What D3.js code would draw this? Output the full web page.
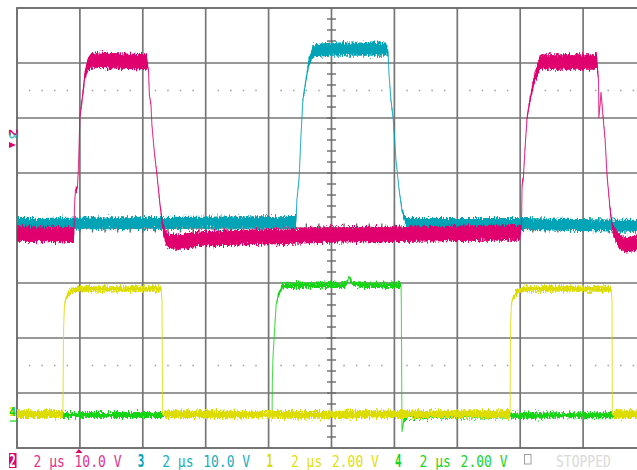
<!DOCTYPE html>
<html><head><meta charset="utf-8">
<script src="https://cdn.jsdelivr.net/npm/d3@7"></script>
<style>html,body{margin:0;padding:0;background:#fff;overflow:hidden}</style>
</head><body><svg id="c" width="637" height="470"></svg>
<script>
// ---------- data ----------
const timeRangeUs = [0, 20];            // 10 divisions x 2 µs
const channelIds = ['1', '2', '3', '4'];
const voltsPerDiv = [2, 10, 10, 2];
const groundDiv = [-3.364, 1.509, 1.509, -3.364]; // ground level in divisions from screen centre
// traces: [time µs, volts, noise half-amplitude volts]
const ch2Trace = [[0,-16.18,1.4],[1.81,-16.36,1.4],[1.83,-10.91,0.2],[1.86,-8.18,0.4],[1.92,-7.82,0.4],[1.95,-4.55,0.2],[1.97,-0.91,0.2],[2.00,5.09,0.3],[2.07,8.18,0.7],[2.16,12.73,0.9],[2.26,14.73,1.2],[2.38,15.45,1.4],[3.28,15.27,1.4],[4.13,15.09,1.4],[4.18,13.64,0.4],[4.21,9.09,0.3],[4.26,7.27,0.3],[4.29,3.64,0.2],[4.36,-0.91,0.2],[4.45,-5.45,0.3],[4.55,-10.91,0.5],[4.64,-15.09,0.9],[4.74,-16.91,1.3],[4.86,-17.64,1.4],[5.18,-17.64,1.4],[5.82,-17.09,1.4],[7.73,-16.73,1.4],[9.95,-16.36,1.4],[12.81,-16.18,1.4],[14.72,-16.0,1.4],[15.99,-16.0,1.4],[16.04,-15.09,0.3],[16.06,-7.27,0.3],[16.10,-6.0,0.4],[16.15,-0.91,0.3],[16.22,5.09,0.4],[16.31,8.18,0.7],[16.44,11.82,1.0],[16.63,15.09,1.4],[17.58,15.09,1.4],[18.44,15.09,1.4],[18.49,11.82,0.3],[18.50,4.91,0.2],[18.54,7.27,0.2],[18.57,9.64,0.2],[18.63,5.45,0.2],[18.70,0.91,0.3],[18.76,-5.45,0.3],[18.86,-11.82,0.5],[18.95,-15.45,0.9],[19.11,-17.27,1.3],[19.33,-18.18,1.4],[19.71,-17.82,1.4],[20,-17.64,1.4]];
const ch3Trace = [[0,-14.36,1.1],[4.23,-14.18,1.1],[8.87,-14.0,1.1],[8.90,-10.0,0.2],[8.97,-6.0,0.3],[9.03,1.82,0.3],[9.09,8.18,0.4],[9.19,11.82,0.6],[9.28,15.09,0.9],[9.41,17.09,1.2],[9.95,17.45,1.2],[11.73,17.45,1.2],[11.80,16.91,0.6],[11.83,12.73,0.2],[11.89,8.18,0.3],[11.96,4.91,0.3],[12.05,-2.73,0.2],[12.15,-8.18,0.2],[12.24,-11.82,0.4],[12.34,-13.64,0.8],[12.50,-14.36,1.1],[15.99,-14.36,1.1],[19.81,-14.73,1.1],[20,-14.73,1.1]];
const ch1Trace = [[0,-0.04,0.14],[1.46,-0.04,0.14],[1.48,3.05,0.02],[1.51,3.93,0.04],[1.56,4.18,0.07],[1.65,4.36,0.1],[1.78,4.47,0.1],[2.0,4.51,0.1],[4.58,4.51,0.1],[4.61,4.11,0.02],[4.63,-0.04,0.02],[4.70,-0.04,0.14],[9.0,-0.07,0.14],[12.18,-0.04,0.14],[15.68,-0.04,0.14],[15.69,3.05,0.02],[15.72,3.93,0.04],[15.77,4.18,0.07],[15.87,4.36,0.1],[15.99,4.47,0.1],[16.22,4.51,0.1],[18.89,4.51,0.1],[18.92,4.11,0.02],[18.93,-0.04,0.02],[19.0,-0.04,0.14],[20,-0.04,0.14]];
const ch4Trace = [[0,-0.07,0.11],[8.11,-0.07,0.11],[8.12,1.2,0.02],[8.14,2.04,0.02],[8.19,3.02,0.03],[8.24,3.93,0.05],[8.30,4.25,0.07],[8.43,4.62,0.1],[8.68,4.65,0.1],[10.43,4.65,0.1],[10.52,4.84,0.05],[10.56,4.95,0.05],[10.65,4.73,0.07],[10.91,4.65,0.1],[12.21,4.65,0.1],[12.22,4.11,0.02],[12.24,-0.69,0.02],[12.30,-0.25,0.07],[12.43,-0.11,0.11],[20,-0.07,0.11]];
const triggerTimeUs = 1.97;
const statusChannels = ['2', '3', '1', '4'];
const statusTimebase = ['2 µs', '2 µs', '2 µs', '2 µs'];
const statusScale = ['10.0 V', '10.0 V', '2.00 V', '2.00 V'];
const acquisitionState = 'STOPPED';

// ---------- drawing ----------
const colors = {'1': '#dcdc00', '2': '#e0006e', '3': '#00a4b6', '4': '#14d414'};
const textColors = {'1': '#e0e010', '2': '#e2338f', '3': '#1aaebf', '4': '#22d422'};
const L = 17, R = 646, T = 8, B = 448;
const svg = d3.select('#c');
const X = d3.scaleLinear().domain(timeRangeUs).range([L, R]);
function yFor(id) {
  const i = channelIds.indexOf(id), v = voltsPerDiv[i], g = groundDiv[i];
  return d3.scaleLinear().domain([(-4 - g) * v, (4 - g) * v]).range([B, T]);
}
const Ydiv = d3.scaleLinear().domain([-4, 4]).range([B, T]);
const Xdiv = d3.scaleLinear().domain([0, 10]).range([L, R]);

const defs = svg.append('defs');
const f = defs.append('filter').attr('id', 'jit').attr('x', '-1%').attr('y', '-30%').attr('width', '102%').attr('height', '160%');
f.append('feTurbulence').attr('type', 'fractalNoise').attr('baseFrequency', '0.85 0.25').attr('numOctaves', 2).attr('seed', 4).attr('result', 't');
f.append('feColorMatrix').attr('in', 't').attr('type', 'matrix')
  .attr('values', '0 0 0 0 0.5  0 1 0 0 0  0 0 0 0 0  0 0 0 0 1').attr('result', 'm');
f.append('feDisplacementMap').attr('in', 'SourceGraphic').attr('in2', 'm').attr('scale', 9)
  .attr('xChannelSelector', 'R').attr('yChannelSelector', 'G');

// grid
const grid = svg.append('g');
d3.range(1, 10).forEach(k => grid.append('line').attr('x1', Xdiv(k)).attr('x2', Xdiv(k)).attr('y1', T).attr('y2', B)
  .attr('stroke', '#767676').attr('stroke-width', 1.7));
d3.range(-3, 4).forEach(k => grid.append('line').attr('x1', L).attr('x2', R).attr('y1', Ydiv(k)).attr('y2', Ydiv(k))
  .attr('stroke', '#767676').attr('stroke-width', 1.7));
grid.append('rect').attr('x', L).attr('y', T).attr('width', R - L).attr('height', B - T)
  .attr('fill', 'none').attr('stroke', '#666').attr('stroke-width', 1.8);
// centre ticks
d3.range(1, 40).forEach(k => grid.append('line').attr('x1', Xdiv(5) - 4.5).attr('x2', Xdiv(5) + 4.5)
  .attr('y1', Ydiv(-4 + k / 5)).attr('y2', Ydiv(-4 + k / 5)).attr('stroke', '#6a6a6a').attr('stroke-width', 1.4));
d3.range(1, 50).forEach(k => grid.append('line').attr('y1', Ydiv(0) - 4.5).attr('y2', Ydiv(0) + 4.5)
  .attr('x1', Xdiv(k / 5)).attr('x2', Xdiv(k / 5)).attr('stroke', '#6a6a6a').attr('stroke-width', 1.4));
// dotted reference lines
[2.5, -2.5].forEach(d => d3.range(1, 50).forEach(k => {
  if (k % 5 === 0) return;
  grid.append('rect').attr('x', Xdiv(k / 5) - 0.8).attr('y', Ydiv(d) - 0.8).attr('width', 1.6).attr('height', 1.6).attr('fill', '#a8a8a8');
}));

// traces
function drawTrace(id, data) {
  const y = yFor(id);
  const g = svg.append('g');
  g.append('path').datum(data).attr('filter', 'url(#jit)')
    .attr('d', d3.area().x(d => X(d[0])).y0(d => y(d[1] - d[2])).y1(d => y(d[1] + d[2])))
    .attr('fill', colors[id]);
  g.append('path').datum(data)
    .attr('d', d3.line().x(d => X(d[0])).y(d => y(d[1])))
    .attr('fill', 'none').attr('stroke', colors[id]).attr('stroke-width', 1.1).attr('stroke-opacity', 0.75);
}
drawTrace('3', ch3Trace);
drawTrace('2', ch2Trace);
drawTrace('4', ch4Trace);
drawTrace('1', ch1Trace);

// ground markers
const y23 = yFor('2')(0), y14 = yFor('1')(0);
svg.append('path').attr('d', `M9,${y23 - 3} L16,${y23} L9,${y23 + 3} Z`).attr('fill', colors['2']);
svg.append('text').attr('transform', `translate(9,${y23 - 16}) rotate(90)`).attr('font-family', 'DejaVu Sans Mono')
  .attr('font-weight', 'bold').attr('font-size', 12).attr('fill', colors['2']).text('2');
svg.append('text').attr('transform', `translate(9,${y23 - 13}) rotate(90)`).attr('font-family', 'DejaVu Sans Mono')
  .attr('font-weight', 'bold').attr('font-size', 12).attr('fill', colors['3']).attr('fill-opacity', 0.7).text('3');
svg.append('text').attr('x', 9).attr('y', y14 + 3).attr('font-family', 'DejaVu Sans Mono').attr('font-weight', 'bold')
  .attr('font-size', 12).attr('fill', colors['1']).text('1');
svg.append('text').attr('x', 9).attr('y', y14 + 3).attr('font-family', 'DejaVu Sans Mono').attr('font-weight', 'bold')
  .attr('font-size', 12).attr('fill', colors['4']).text('4');
svg.append('line').attr('x1', 10).attr('x2', 17).attr('y1', y14 + 8).attr('y2', y14 + 8).attr('stroke', colors['4']).attr('stroke-width', 1.2);

// trigger position marker
const tx = X(triggerTimeUs);
svg.append('path').attr('d', `M${tx},${B + 1} L${tx + 3.5},${B + 5} L${tx - 3.5},${B + 5} Z`).attr('fill', colors['2']);

// status bar
const sb = svg.append('g').attr('font-family', 'DejaVu Sans Mono');
statusChannels.forEach((id, i) => {
  const gx = 9 + i * 128.7;
  const g = sb.append('g');
  if (i === 0) {
    g.append('rect').attr('x', gx).attr('y', 453).attr('width', 7.5).attr('height', 15).attr('fill', colors[id]);
  }
  g.append('text').attr('transform', `translate(${gx + (i === 0 ? 0.3 : 0)},467) scale(0.9,1.4)`)
    .attr('font-size', 12).attr('font-weight', 'bold').attr('fill', i === 0 ? '#fff' : colors[id]).text(id);
  g.append('text').attr('transform', `translate(${gx + 24.5},466.5) scale(1,1.22)`).attr('font-size', 13)
    .attr('fill', textColors[id]).text(statusTimebase[i]);
  g.append('text').attr('transform', `translate(${gx + 65.5},466.5) scale(1,1.22)`).attr('font-size', 13)
    .attr('fill', textColors[id]).text(statusScale[i]);
});
sb.append('rect').attr('x', 524.5).attr('y', 454.5).attr('width', 6.5).attr('height', 9.5).attr('fill', 'none').attr('stroke', '#a0a0a0').attr('stroke-width', 1);
sb.append('text').attr('transform', 'translate(556,466.5) scale(1,1.22)').attr('font-size', 13).attr('fill', '#dadada').text(acquisitionState);
</script>
</body></html>
